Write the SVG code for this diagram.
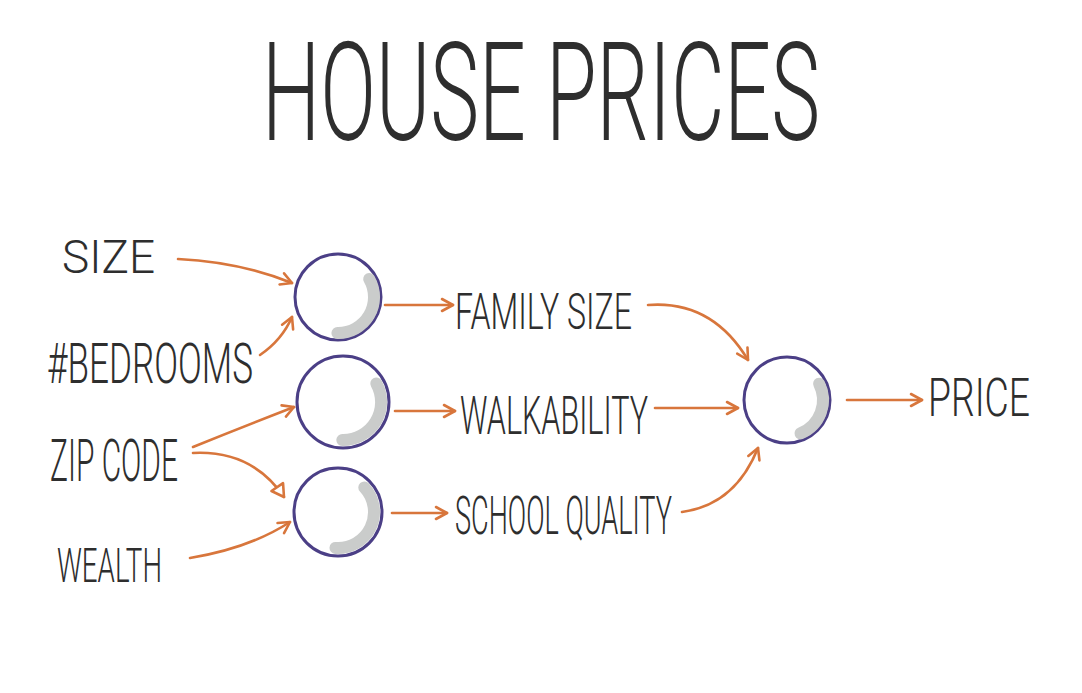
<svg xmlns="http://www.w3.org/2000/svg" width="1082" height="693" viewBox="0 0 1082 693">
<style>
.t{font-family:Roboto,"Liberation Sans Narrow","Liberation Sans",sans-serif;font-weight:300;fill:#2e2e2e}
.c{fill:#fff;stroke:#4b3f86;stroke-width:3}
.sh{fill:none;stroke:#cacccb;stroke-width:12;stroke-linecap:round}
.a{fill:none;stroke:#d8763c;stroke-width:2.6;stroke-linecap:round}
</style>
<defs>
<marker id="ah" markerUnits="userSpaceOnUse" markerWidth="16" markerHeight="16" viewBox="0 0 16 16" refX="13" refY="8" orient="auto">
<path d="M2,2 L13,8 L2,14" fill="none" stroke="#d8763c" stroke-width="2.6" stroke-linecap="round" stroke-linejoin="round"/>
</marker>
<marker id="tri" markerUnits="userSpaceOnUse" markerWidth="18" markerHeight="18" viewBox="0 0 18 18" refX="14" refY="9" orient="auto">
<path d="M2,2 L14,9 L2,16 Z" fill="#fff" stroke="#d8763c" stroke-width="2.6" stroke-linejoin="round"/>
</marker>
</defs>
<rect width="1082" height="693" fill="#fff"/>
<text class="t" x="262" y="140" font-size="137" textLength="558" lengthAdjust="spacingAndGlyphs">HOUSE PRICES</text>

<g id="connectors">
<path class="a" d="M178,259 Q240,262 292,283" marker-end="url(#ah)"/>
<path class="a" d="M260,355 Q282,340 292,317" marker-end="url(#ah)"/>
<path class="a" d="M193,447 Q240,428 294,407" marker-end="url(#ah)"/>
<path class="a" d="M193,453 Q252,450 284,497" marker-end="url(#tri)"/>
<path class="a" d="M190,558 Q250,548 290,522" marker-end="url(#ah)"/>
<path class="a" d="M385,305 L453,305" marker-end="url(#ah)"/>
<path class="a" d="M395,411 L455,411" marker-end="url(#ah)"/>
<path class="a" d="M392,513 L447,513" marker-end="url(#ah)"/>
<path class="a" d="M648,305 Q712,300 748,360" marker-end="url(#ah)"/>
<path class="a" d="M655,408 L738,408" marker-end="url(#ah)"/>
<path class="a" d="M682,512 Q735,505 758,448" marker-end="url(#ah)"/>
<path class="a" d="M847,400 L922,400" marker-end="url(#ah)"/>
</g>

<g id="in-size"><text class="t" x="62" y="273" font-size="46" textLength="93" lengthAdjust="spacingAndGlyphs">SIZE</text></g>
<g id="in-bedrooms"><text class="t" x="47" y="383" font-size="56" textLength="206" lengthAdjust="spacingAndGlyphs">#BEDROOMS</text></g>
<g id="in-zip"><text class="t" x="50" y="481" font-size="60" textLength="128" lengthAdjust="spacingAndGlyphs">ZIP CODE</text></g>
<g id="in-wealth"><text class="t" x="57" y="582" font-size="49" textLength="105" lengthAdjust="spacingAndGlyphs">WEALTH</text></g>

<g id="h1"><circle class="c" cx="338" cy="297" r="43"/><path class="sh" d="M369.2,279 A36,36 0 0 1 337.4,333"/></g>
<g id="h2"><circle class="c" cx="343" cy="402" r="46"/><path class="sh" d="M376.3,383.5 A38,38 0 0 1 342.3,440"/></g>
<g id="h3"><circle class="c" cx="338" cy="512" r="44"/><path class="sh" d="M364.3,487.4 A36,36 0 0 1 335.5,547.9"/></g>
<g id="out"><circle class="c" cx="787" cy="400" r="43"/><path class="sh" d="M819.1,383.7 A36,36 0 0 1 800.5,433.4"/></g>

<g id="m-family"><text class="t" x="455" y="329" font-size="50" textLength="177" lengthAdjust="spacingAndGlyphs">FAMILY SIZE</text></g>
<g id="m-walk"><text class="t" x="460" y="434" font-size="54" textLength="188" lengthAdjust="spacingAndGlyphs">WALKABILITY</text></g>
<g id="m-school"><text class="t" x="455" y="534" font-size="54" textLength="217" lengthAdjust="spacingAndGlyphs">SCHOOL QUALITY</text></g>
<g id="price"><text class="t" x="928" y="416" font-size="54" textLength="102" lengthAdjust="spacingAndGlyphs">PRICE</text></g>
</svg>
